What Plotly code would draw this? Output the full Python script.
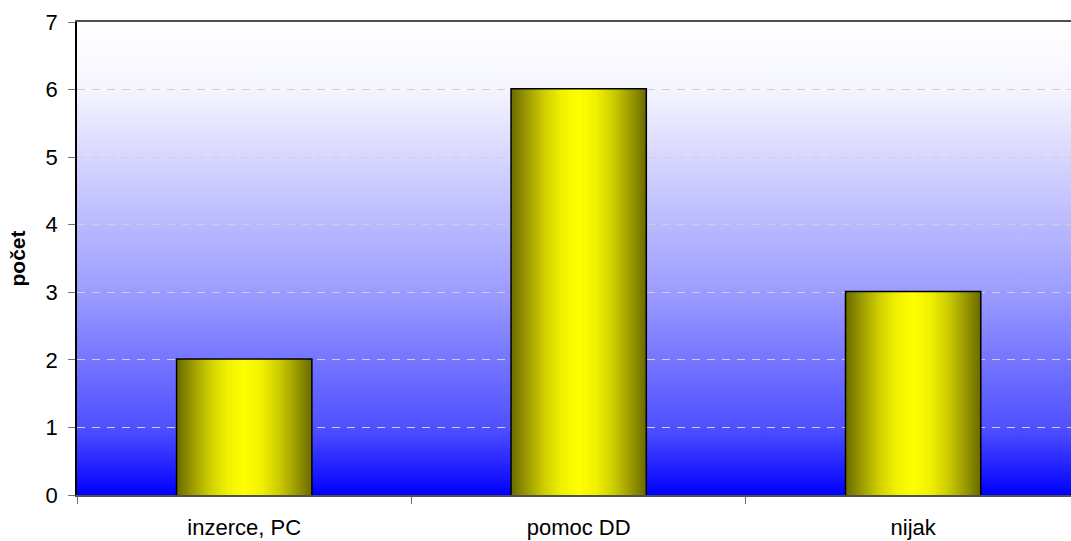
import base64
import plotly.graph_objects as go

categories = ["inzerce, PC", "pomoc DD", "nijak"]
counts = [2, 6, 3]
y_title = "počet"
y_max = 7

x_pos = list(range(len(categories)))
bar_width = 0.4
font_family = "Liberation Sans, Arial, sans-serif"

# background gradient (white at the top -> blue at the bottom) as an svg image
svg = (
    "<svg xmlns='http://www.w3.org/2000/svg' width='10' height='100' preserveAspectRatio='none'>"
    "<defs><linearGradient id='g' x1='0' y1='0' x2='0' y2='1'>"
    "<stop offset='0' stop-color='#ffffff'/>"
    "<stop offset='0.14' stop-color='#f5f5ff'/>"
    "<stop offset='0.57' stop-color='#9c9cff'/>"
    "<stop offset='0.86' stop-color='#4f4fff'/>"
    "<stop offset='1' stop-color='#0000ff'/>"
    "</linearGradient></defs>"
    "<rect width='10' height='100' fill='url(#g)'/></svg>"
)
bg_uri = "data:image/svg+xml;base64," + base64.b64encode(svg.encode()).decode()

fig = go.Figure()

# gradient fill of each bar (dark olive edges, yellow in the middle)
bar_scale = [
    [0, "#6b6b00"], [0.11, "#9a9a00"], [0.25, "#d0d000"], [0.37, "#f0f000"], [0.5, "#ffff00"],
    [0.63, "#f0f000"], [0.75, "#d0d000"], [0.89, "#9a9a00"], [1, "#6b6b00"],
]
for xi, v in zip(x_pos, counts):
    x0, x1 = xi - bar_width / 2, xi + bar_width / 2
    fig.add_trace(go.Scatter(
        x=[x0, x1, x1, x0, x0], y=[0, 0, v, v, 0],
        mode="lines", fill="toself",
        fillgradient=dict(type="horizontal", colorscale=bar_scale),
        line=dict(width=0), hoverinfo="skip", showlegend=False,
    ))

# outline of the bars
fig.add_trace(go.Bar(
    x=x_pos, y=counts, width=bar_width,
    marker=dict(color="rgba(0,0,0,0)", line=dict(color="black", width=3)),
    showlegend=False,
))

fig.update_layout(
    width=1071, height=541,
    margin=dict(l=77, r=0, t=22, b=46),
    paper_bgcolor="white",
    plot_bgcolor="rgba(0,0,0,0)",
    font=dict(family=font_family, size=22, color="black"),
    images=[dict(source=bg_uri, xref="paper", yref="paper", x=0, y=1,
                 sizex=1, sizey=1, sizing="stretch", layer="below")],
)

fig.update_xaxes(
    range=[-0.5, 2.472],
    tickmode="array", tickvals=x_pos, ticktext=categories,
    ticks="", ticklabelstandoff=12,
    minor=dict(ticks="outside", ticklen=7, tickcolor="#707070", tick0=0.5, dtick=1, showgrid=False),
    showgrid=False, zeroline=False,
    showline=True, linecolor="#505050", linewidth=1.5, mirror=True,
)
fig.update_yaxes(
    range=[0, y_max], dtick=1,
    ticks="outside", ticklen=7, tickcolor="#707070", ticklabelstandoff=6,
    showgrid=True, gridcolor="#d0d0d0", gridwidth=1, griddash="8px,7px",
    zeroline=False,
    showline=True, linecolor="black", linewidth=1.5,
    title=dict(text="<b>" + y_title + "</b>", font=dict(size=21), standoff=14),
)

# drop the page margin so the figure fills the window exactly
fig.write_html(
    "out.html",
    config={"displayModeBar": False},
    post_script="document.body.style.margin='0';document.body.style.overflow='hidden';",
)
